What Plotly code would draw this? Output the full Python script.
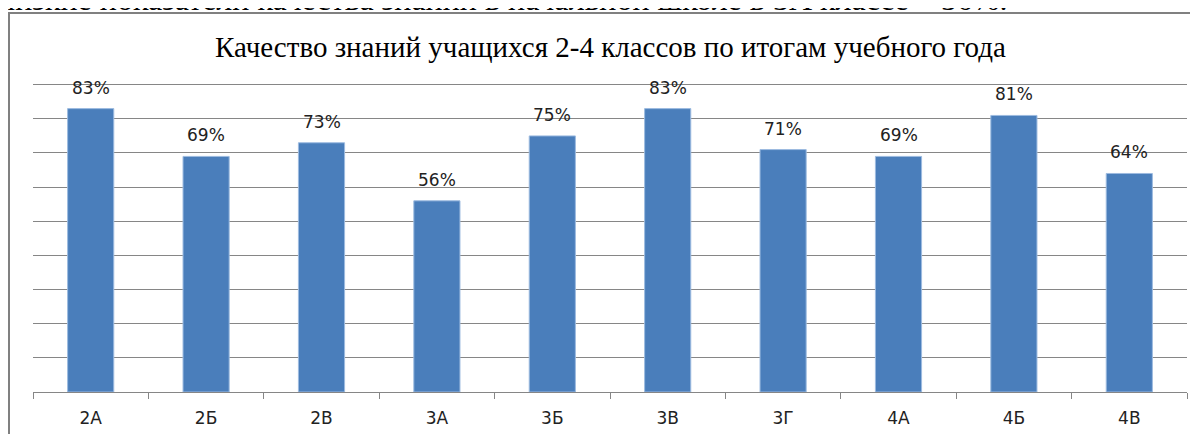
import plotly.graph_objects as go

categories = ["2А", "2Б", "2В", "3А", "3Б", "3В", "3Г", "4А", "4Б", "4В"]
values = [83, 69, 73, 56, 75, 83, 71, 69, 81, 64]
title_text = "Качество знаний учащихся 2-4 классов по итогам учебного года"
top_text = "низкие показатели качества знаний в начальной школе в 3А классе – 56%."

W, H = 1198, 434
OFF = 8  # page body margin offset of the figure div
YMAX = 90.5
# plot area in page pixels: x 33..1187, y (90 at 85)..392
ppu = (392 - 85) / 90.0
ML = 33 - OFF
MT = int(round(85 - (YMAX - 90) * ppu)) - OFF
MR = W - (1187 - OFF)
MB = H - (392 - OFF)
PW, PH = W - ML - MR, H - MT - MB

def px_x(p):  # page pixel -> paper x
    return (p - OFF - ML) / PW

def px_y(p):  # page pixel -> paper y
    return (H - MB - (p - OFF)) / PH

fig = go.Figure()
fig.add_trace(go.Bar(
    x=categories, y=values,
    marker=dict(color="#4a7ebb", line=dict(color="#9dbbe0", width=1)),
    width=0.4,
    hoverinfo="skip",
))

for c, v in zip(categories, values):
    fig.add_annotation(
        x=c, y=v, xref="x", yref="y", text=f"{v}%", showarrow=False,
        yanchor="bottom", yshift=9,
        font=dict(family="DejaVu Sans", size=17, color="#222222"),
    )

fig.add_annotation(
    xref="paper", yref="paper", x=px_x(610), y=px_y(47), text=title_text,
    showarrow=False, xanchor="center", yanchor="middle",
    font=dict(family="Liberation Serif", size=29, color="#000000"),
)

fig.add_annotation(
    xref="paper", yref="paper", x=px_x(-4), y=px_y(19), text=top_text,
    showarrow=False, xanchor="left", yanchor="bottom",
    font=dict(family="Liberation Serif", size=32, color="#000000"),
)

fig.add_shape(
    type="rect", xref="paper", yref="paper",
    x0=px_x(9), x1=px_x(1260), y0=px_y(13), y1=px_y(480),
    line=dict(color="#808080", width=2), fillcolor="rgba(0,0,0,0)",
    layer="below",
)

fig.update_layout(
    width=W, height=H,
    margin=dict(l=ML, r=MR, t=MT, b=MB, autoexpand=False),
    paper_bgcolor="white", plot_bgcolor="white",
    showlegend=False,
    bargap=0.6,
)
fig.update_xaxes(
    showline=True, linecolor="#868686", linewidth=1,
    ticks="outside", tickson="boundaries", ticklen=6, tickcolor="#868686",
    tickfont=dict(family="DejaVu Sans", size=17, color="#222222"),
    ticklabelstandoff=11,
    showgrid=False, automargin=False,
)
fig.update_yaxes(
    range=[0, YMAX], tickvals=[10, 20, 30, 40, 50, 60, 70, 80, 90],
    showticklabels=False,
    showgrid=True, gridcolor="#868686", gridwidth=1,
    zeroline=False, showline=False, automargin=False,
)

fig.write_html("out.html")
